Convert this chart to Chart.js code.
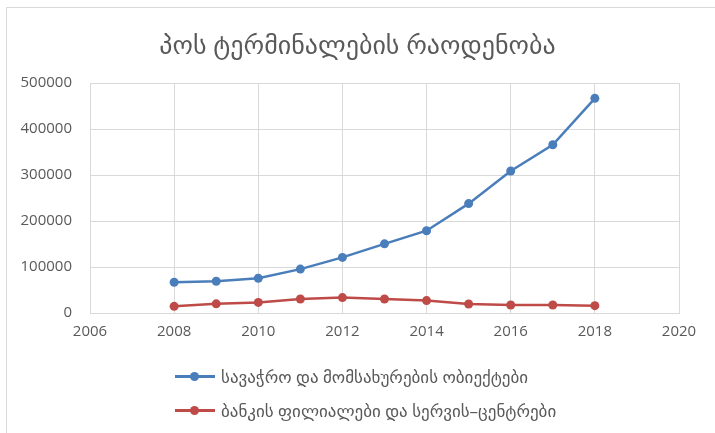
<!DOCTYPE html>
<html>
<head>
<meta charset="utf-8">
<script src="https://cdn.jsdelivr.net/npm/chart.js@4"></script>
<style>
  html, body { margin: 0; padding: 0; background: #fff; }
  .wrap { position: relative; width: 715px; height: 433px; overflow: hidden; }
  .frame { position: absolute; left: 6px; top: 7px; width: 800px; height: 500px;
           border-left: 1px solid #d9d9d9; border-top: 1px solid #d9d9d9; }
  canvas { position: absolute; left: 0; top: 0; }
  .legend { position: absolute; left: 175px; top: 359px;
            font: 17px "Open Sans", "DejaVu Sans", sans-serif; color: #595959; }
  .legend .item { height: 34px; display: flex; align-items: center; }
  .legend .mark { position: relative; width: 40px; height: 3px; margin-right: 6px; }
  .legend .mark span { position: absolute; left: 15px; top: -3px; width: 9px; height: 9px; border-radius: 50%; }
</style>
</head>
<body>
<div class="wrap">
  <div class="frame"></div>
  <canvas id="posChart" width="715" height="433"></canvas>
  <div class="legend" id="legend"></div>
</div>
<script>
const years = [2008, 2009, 2010, 2011, 2012, 2013, 2014, 2015, 2016, 2017, 2018];
const shops = [67000, 69000, 75500, 95500, 121000, 150500, 179000, 238000, 309000, 366000, 467000];
const banks = [14500, 20000, 23000, 30500, 33500, 30500, 27000, 19500, 17500, 17500, 16000];
const shopsLabel = "სავაჭრო და მომსახურების ობიექტები";
const banksLabel = "ბანკის ფილიალები და სერვის–ცენტრები";
const chartTitle = "პოს ტერმინალების რაოდენობა";

const blue = "#4a7ebb";
const red = "#be4b48";
const textColor = "#595959";
const gridColor = "#d9d9d9";
const fontFamily = "'Open Sans', 'DejaVu Sans', sans-serif";

const toPoints = (vals) => years.map((y, i) => ({ x: y, y: vals[i] }));

const data = {
    datasets: [
        {
            label: shopsLabel,
            data: toPoints(shops),
            borderColor: blue,
            backgroundColor: blue,
            borderWidth: 2.5,
            pointRadius: 4.5,
            pointBorderWidth: 0
        },
        {
            label: banksLabel,
            data: toPoints(banks),
            borderColor: red,
            backgroundColor: red,
            borderWidth: 2.5,
            pointRadius: 4.5,
            pointBorderWidth: 0
        }
    ]
};

const config = {
    type: "line",
    data,
    options: {
        responsive: false,
        animation: false,
        layout: { padding: { left: 0, right: 0, top: 0, bottom: 90 } },
        plugins: {
            legend: { display: false },
            tooltip: { enabled: false },
            title: {
                display: true,
                text: chartTitle,
                color: textColor,
                font: { family: fontFamily, size: 26, weight: "normal" },
                padding: { top: 31, bottom: 21 }
            }
        },
        scales: {
            x: {
                type: "linear",
                min: 2006,
                max: 2020,
                ticks: {
                    stepSize: 2,
                    color: textColor,
                    font: { family: fontFamily, size: 15 },
                    padding: 10,
                    callback: (v) => String(v)
                },
                grid: { color: gridColor, drawTicks: false },
                border: { color: gridColor },
                afterFit: (s) => { s.height = 30; }
            },
            y: {
                min: 0,
                max: 500000,
                ticks: {
                    stepSize: 100000,
                    color: textColor,
                    font: { family: fontFamily, size: 15 },
                    padding: 18,
                    callback: (v) => String(v)
                },
                grid: { color: gridColor, drawTicks: false },
                border: { color: gridColor },
                afterFit: (s) => { s.width = 90; }
            },
            // empty right-hand axis, only keeps the right margin so the title stays centred
            yRight: {
                position: "right",
                min: 0,
                max: 500000,
                ticks: { display: false },
                grid: { display: false },
                border: { display: false },
                afterFit: (s) => { s.width = 36; }
            }
        }
    }
};

const myChart = new Chart(document.getElementById("posChart"), config);

// legend below the plot, one entry per row like the original
const legendBox = document.getElementById("legend");
data.datasets.forEach((ds) => {
    legendBox.innerHTML += `<div class="item"><div class="mark" style="background:${ds.borderColor}"><span style="background:${ds.borderColor}"></span></div>${ds.label}</div>`;
});
</script>
</body>
</html>
